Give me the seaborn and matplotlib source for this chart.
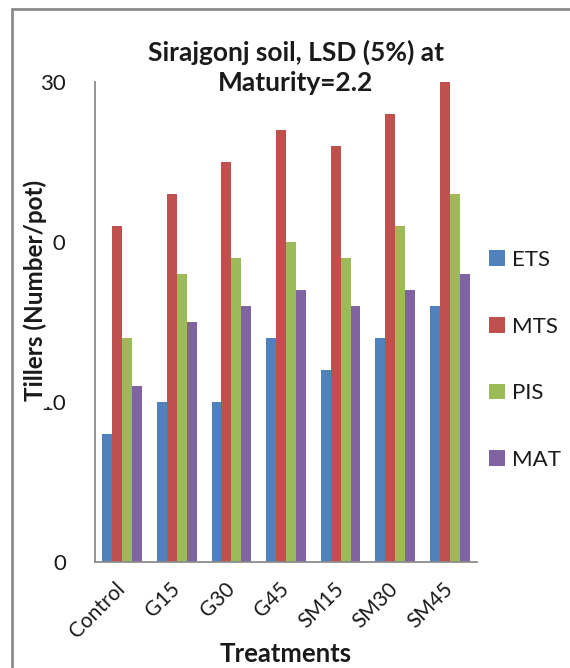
import numpy as np
import pandas as pd
import seaborn as sns
import matplotlib.pyplot as plt
from matplotlib.lines import Line2D

# Tiller counts per treatment at each growth stage
treatments = ["Control", "G15", "G30", "G45", "SM15", "SM30", "SM45"]
ets = [8, 10, 10, 14, 12, 14, 16]
mts = [21, 23, 25, 27, 26, 28, 30]
pis = [14, 18, 19, 20, 19, 21, 23]
mat = [11, 15, 16, 17, 16, 17, 18]
stages = ["ETS", "MTS", "PIS", "MAT"]
stage_colors = ["#4F81BD", "#C0504D", "#9BBB59", "#8064A2"]
y_ticks = [0, 10, 20, 30]

df = pd.DataFrame({
    "Treatment": treatments * len(stages),
    "Stage": np.repeat(stages, len(treatments)),
    "Tillers": ets + mts + pis + mat,
})

sns.set_theme(style="white")
plt.rcParams["font.family"] = ["Lato", "DejaVu Sans"]
plt.rcParams["text.color"] = "#1a1a1a"

W, H = 570, 668
fig = plt.figure(figsize=(W / 100, H / 100), dpi=100)
ax = fig.add_axes([95 / W, 106 / H, 382 / W, 480 / H])

sns.barplot(data=df, x="Treatment", y="Tillers", hue="Stage",
            palette=stage_colors, width=0.73, saturation=1, gap=0,
            edgecolor="none", linewidth=0, ax=ax)

ax.set_ylim(0, 30)
ax.set_xlim(-0.5, len(treatments) - 0.5)
ax.set_yticks(y_ticks)
ax.set_yticklabels([str(t) for t in y_ticks])
ax.set_xlabel("")
ax.set_ylabel("")

for side in ("top", "right"):
    ax.spines[side].set_visible(False)
for side in ("left", "bottom"):
    ax.spines[side].set_color("#8c8c8c")
    ax.spines[side].set_linewidth(1.3)

ax.tick_params(axis="y", direction="out", length=7, width=1.3,
               color="#8c8c8c", labelsize=16, pad=14, labelcolor="#1a1a1a")
ax.tick_params(axis="x", length=0, labelsize=15, pad=17, labelcolor="#1a1a1a")
for lbl in ax.get_xticklabels():
    lbl.set_rotation(45)
    lbl.set_ha("right")
    lbl.set_va("center")
    lbl.set_rotation_mode("anchor")

handles, labels = ax.get_legend_handles_labels()
ax.legend(handles, labels, loc="center left",
          bbox_to_anchor=(489 / W, 1 - 360 / H), bbox_transform=fig.transFigure,
          frameon=False, fontsize=16, labelspacing=2.1, handlelength=0.7,
          handleheight=0.7, handletextpad=0.35, borderpad=0, borderaxespad=0)

fig.text(296 / W, 1 - 67 / H, "Sirajgonj soil, LSD (5%) at\nMaturity=2.2",
         ha="center", va="center", fontsize=19, fontweight="bold",
         linespacing=1.3)
fig.text(286 / W, 1 - 654 / H, "Treatments", ha="center", va="center",
         fontsize=18.5, fontweight="bold")
# The axis title sits on a white box over the inner tick labels
fig.text(35 / W, 1 - 290 / H, "Tillers (Number/pot)", ha="center", va="center",
         rotation=90, fontsize=17.5, fontweight="bold",
         bbox=dict(facecolor="white", edgecolor="none", pad=4.5))

# Chart-area border
fig.add_artist(Line2D([12 / W, 1], [1 - 9 / H, 1 - 9 / H], color="#8c8c8c",
                      lw=2, transform=fig.transFigure))
fig.add_artist(Line2D([12 / W, 12 / W], [0, 1 - 9 / H], color="#8c8c8c",
                      lw=2, transform=fig.transFigure))

fig.savefig("out.png", dpi=100, facecolor="white")
